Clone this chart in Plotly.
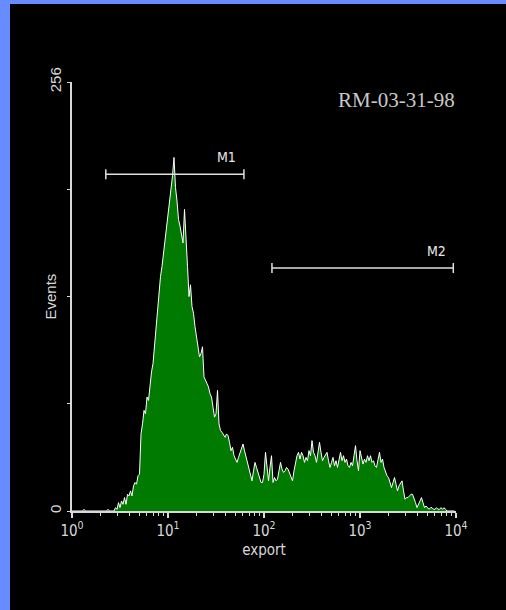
import numpy as np
import plotly.graph_objects as go

# ---- data ----
channels = [0, 7, 8, 9, 23, 24, 25, 28, 29, 30, 31, 32, 33, 34, 35, 36, 37, 38, 39, 40,
            41, 42, 43, 44, 45, 46, 47, 48, 49, 50, 51, 52, 53, 54, 55, 56, 57, 58, 59, 60,
            61, 62, 63, 64, 65, 66, 67, 68, 69, 70, 71, 72, 73, 74, 75, 76, 77, 78, 79, 80,
            81, 82, 83, 84, 85, 86, 87, 88, 89, 90, 91, 92, 93, 94, 95, 96, 97, 98, 99, 100,
            101, 102, 103, 104, 105, 106, 107, 108, 109, 110, 111, 112, 113, 114, 115, 116, 117, 118, 119, 120,
            121, 122, 123, 124, 125, 126, 127, 128, 129, 130, 131, 132, 133, 134, 135, 136, 137, 138, 139, 140,
            141, 142, 143, 144, 145, 146, 147, 148, 149, 150, 151, 152, 153, 154, 155, 156, 157, 158, 159, 160,
            161, 162, 163, 164, 165, 166, 167, 168, 169, 170, 171, 172, 173, 174, 175, 176, 177, 178, 179, 180,
            181, 182, 183, 184, 185, 186, 187, 188, 189, 190, 191, 192, 193, 194, 195, 196, 197, 198, 199, 200,
            201, 202, 203, 204, 205, 206, 207, 208, 209, 210, 211, 212, 213, 214, 215, 216, 217, 218, 219, 220,
            221, 222, 223, 224, 225, 226, 227, 228, 229, 230, 231, 232, 233, 234, 235, 236, 237, 238, 239, 240,
            241, 242, 243, 244, 245, 246, 247, 248, 249, 250, 255]
events = [0, 0, 1, 0, 0, 1, 0, 0, 2, 1, 5, 2, 6, 4, 8, 4, 10, 9, 12, 9,
          15, 17, 16, 21, 22, 46, 52, 60, 58, 68, 66, 75, 83, 88, 98, 110, 122, 132, 140, 146,
          154, 162, 169, 176, 184, 190, 200, 211, 193, 185, 174, 170, 165, 160, 180, 158, 146, 128, 135, 122,
          118, 110, 104, 98, 92, 94, 98, 80, 78, 76, 74, 70, 68, 62, 56, 58, 72, 52, 48, 47,
          45, 44, 46, 45, 41, 36, 38, 33, 31, 29, 32, 35, 38, 40, 36, 32, 28, 24, 22, 18,
          24, 29, 26, 23, 20, 17, 17, 22, 35, 24, 18, 26, 33, 17, 20, 18, 19, 24, 29, 25,
          23, 24, 26, 25, 23, 20, 18, 24, 30, 33, 35, 31, 35, 33, 29, 32, 30, 36, 33, 42,
          35, 33, 29, 34, 41, 35, 30, 32, 34, 35, 30, 26, 29, 32, 27, 30, 26, 31, 35, 30,
          33, 29, 31, 27, 26, 29, 27, 33, 39, 30, 24, 36, 32, 28, 31, 29, 33, 30, 33, 29,
          30, 27, 26, 30, 35, 29, 31, 26, 23, 21, 20, 17, 14, 17, 20, 16, 12, 15, 17, 18,
          12, 7, 8, 8, 9, 10, 10, 8, 5, 2, 4, 6, 8, 5, 2, 3, 2, 1, 2, 2,
          1, 1, 2, 1, 1, 2, 1, 2, 1, 0, 0]
channels_per_decade = 64

x_tick_vals = [1, 10, 100, 1000, 10000]
x_tick_text = ["10<sup>0</sup>", "10<sup>1</sup>", "10<sup>2</sup>", "10<sup>3</sup>", "10<sup>4</sup>"]
y_tick_vals = [0, 256]
y_tick_text = ["0", "256"]
y_minor_vals = [64, 128, 192]

gate_names = ["M1", "M2"]
gate_lo = [2.25, 121]
gate_hi = [61.8, 9370]
gate_level = [201, 145]

sample_name = "RM-03-31-98"
x_title = "export"
y_title = "Events"

# ---- styles ----
BLUE = "#668cff"
GREEN = "#007a00"
AXIS = "#d8d8d8"
NARROW = "Liberation Sans Narrow, DejaVu Sans Condensed, Arial Narrow, sans-serif"
SANS = "Liberation Sans, Arial, sans-serif"

export_vals = [10 ** (c / channels_per_decade) for c in channels]

fig = go.Figure()
fig.add_trace(go.Scatter(
    x=export_vals, y=events, mode="lines",
    line=dict(color="white", width=1),
    fill="tozeroy", fillcolor=GREEN, hoverinfo="skip", showlegend=False,
))

cap = 3
for name, lo, hi, lev in zip(gate_names, gate_lo, gate_hi, gate_level):
    fig.add_trace(go.Scatter(
        x=[lo, hi, None, lo, lo, None, hi, hi],
        y=[lev, lev, None, lev - cap, lev + cap, None, lev - cap, lev + cap],
        mode="lines", line=dict(color="#e0e0e0", width=1.5),
        hoverinfo="skip", showlegend=False,
    ))
    fig.add_annotation(
        x=np.log10(hi) - 0.18, y=lev + 4, text=name, showarrow=False,
        xanchor="center", yanchor="bottom",
        font=dict(family=NARROW, size=14, color="#e8e8e8"),
    )

fig.add_annotation(
    xref="paper", yref="paper", x=0.845, y=0.958, text=sample_name,
    showarrow=False, xanchor="center", yanchor="middle",
    font=dict(family="Liberation Serif, Times New Roman, serif", size=21, color="#c8c8c8"),
)
fig.add_annotation(
    xref="paper", yref="paper", x=(50 - 72) / 384, y=0.5, text=y_title,
    showarrow=False, xanchor="center", yanchor="middle", textangle=-90,
    font=dict(family=SANS, size=15, color=AXIS),
)

fig.update_layout(
    width=506, height=610,
    margin=dict(l=72, r=50, t=82, b=99),
    paper_bgcolor="black", plot_bgcolor="black",
    shapes=[
        dict(type="rect", xref="paper", yref="paper", x0=-0.2, x1=(10 - 72) / 384,
             y0=-0.3, y1=1.3, fillcolor=BLUE, line=dict(width=0), layer="above"),
        dict(type="rect", xref="paper", yref="paper", x0=-0.2, x1=1.3,
             y0=(511 - 4) / 429, y1=1.3, fillcolor=BLUE, line=dict(width=0), layer="above"),
    ],
    xaxis=dict(
        type="log", range=[0, 4], showgrid=False, zeroline=False,
        showline=True, linecolor=AXIS, linewidth=1.5,
        ticks="outside", ticklen=5, tickcolor=AXIS, tickwidth=1.5,
        tickvals=x_tick_vals, ticktext=x_tick_text,
        tickfont=dict(family=NARROW, size=15, color=AXIS),
        minor=dict(ticks="outside", ticklen=3, tickcolor=AXIS, tickwidth=1,
                   tickvals=[m * d for d in [1, 10, 100, 1000] for m in range(2, 10)]),
        title=dict(text=x_title, standoff=6, font=dict(family=NARROW, size=15, color=AXIS)),
    ),
    yaxis=dict(
        range=[0, 256], showgrid=False, zeroline=False,
        showline=True, linecolor=AXIS, linewidth=1.5,
        ticks="outside", ticklen=3, tickcolor=AXIS, tickwidth=1,
        tickvals=y_tick_vals, ticktext=y_tick_text, tickangle=-90,
        tickfont=dict(family=SANS, size=15, color=AXIS),
        minor=dict(ticks="outside", ticklen=3, tickcolor=AXIS, tickwidth=1,
                   tickvals=y_minor_vals),
    ),
)

fig.write_html("out.html")
